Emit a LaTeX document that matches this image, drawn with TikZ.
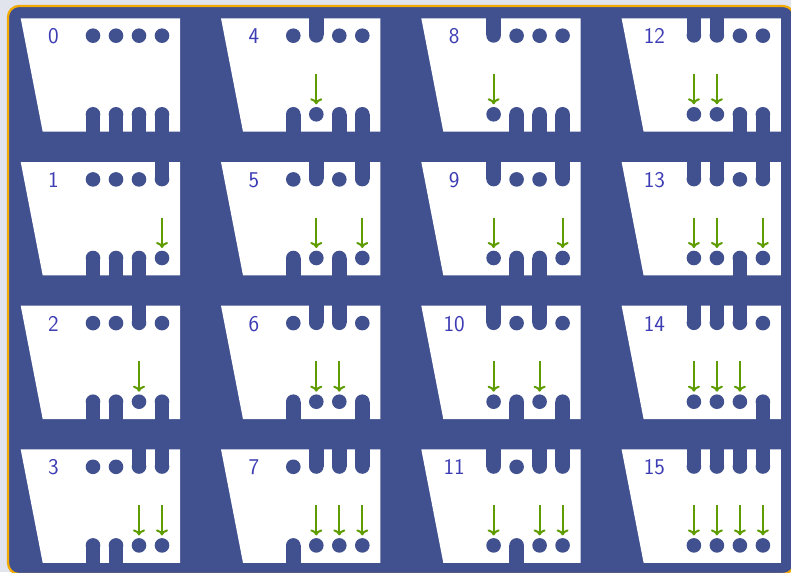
\documentclass[tikz,border=0pt]{standalone}
\usepackage{tikz}
\usetikzlibrary{arrows.meta}
\definecolor{pagegray}{HTML}{E1E4EC}
\definecolor{boardblue}{HTML}{41508F}
\definecolor{boardedge}{HTML}{F2A900}
\definecolor{cardnum}{HTML}{3C3CB4}
\definecolor{cardarrow}{HTML}{5E9C00}

\tikzset{
  card/.style={fill=white,draw=none},
  hole/.style={fill=boardblue,draw=none},
  bitdot/.style={circle,fill=boardblue,inner sep=0pt,minimum size=14.6pt},
  cardlabel/.style={text=cardnum,font=\sffamily\fontsize{22.5}{26}\selectfont,inner sep=0pt},
  bitarrow/.style={draw=cardarrow,line width=2pt,shorten >=2.5pt,
    -{Computer Modern Rightarrow[length=6pt,width=12pt]}}
}

\begin{document}
\begin{tikzpicture}[x=1pt,y=-1pt]
  \fill[pagegray] (0,0) rectangle (791,572);
  \useasboundingbox (0,0) rectangle (791,572);
  % board
  \begin{scope}
    \clip (0,0) rectangle (791,572);
    \draw[fill=boardblue,draw=boardedge,line width=2.2pt,rounded corners=11pt] (8,6) rectangle (794,574);
  \end{scope}
  % the sixteen cards
  \foreach \n in {0,...,15} {
    \pgfmathsetmacro\xo{20.7+200.3*int(\n/4)}
    \pgfmathsetmacro\yo{18.3+143.7*mod(\n,4)}
    \fill[card] (\xo,\yo) -- ++(159.3,0) -- ++(0,113.4) -- ++(-137.3,0) -- cycle;
    \node[cardlabel] (n\n) at (\xo+32.8,\yo+18) {\n};
    \foreach \i in {0,1,2,3} {
      \pgfmathtruncatemacro\b{mod(floor(\n/2^(3-\i)),2)}
      \pgfmathsetmacro\xc{\xo+72.3+23*\i}
      \ifnum\b=1
        % slot from the top, dot with arrow below
        \fill[hole] (\xc-7.3,\yo-1) rectangle (\xc+7.3,\yo+17.1);
        \fill[hole] (\xc,\yo+17.1) circle (7.3);
        \node[bitdot] (d\n-\i) at (\xc,\yo+96) {};
        \coordinate (a\n-\i) at (\xc,\yo+55.7);
        \draw[bitarrow] (a\n-\i) -- (d\n-\i.north);
      \else
        % dot on top, bump from the bottom
        \node[bitdot] (d\n-\i) at (\xc,\yo+17.4) {};
        \fill[hole] (\xc-7.3,\yo+96) rectangle (\xc+7.3,\yo+114.4);
        \fill[hole] (\xc,\yo+96) circle (7.3);
      \fi
    }
  }
\end{tikzpicture}
\end{document}
